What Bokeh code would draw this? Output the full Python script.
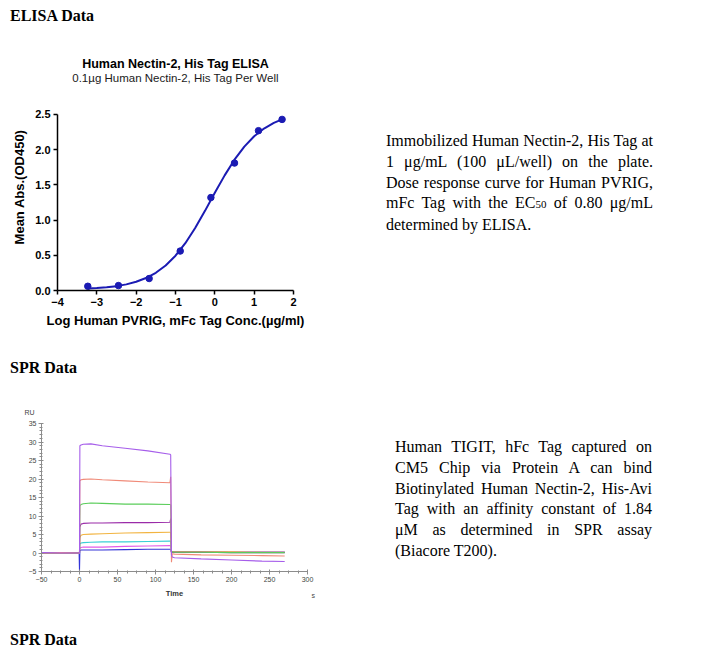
from bokeh.plotting import figure
from bokeh.models import Div, Range1d, FixedTicker, Title, NumeralTickFormatter
from bokeh.layouts import column, row
from bokeh.embed import file_html
from bokeh.resources import INLINE

SANS = "Liberation Sans"
SERIF = "'Liberation Serif', 'Times New Roman', serif"

# ---------------- ELISA data ----------------
elisa_heading = "ELISA Data"
elisa_title = "Human Nectin-2, His Tag ELISA"
elisa_subtitle = "0.1µg Human Nectin-2, His Tag Per Well"
elisa_xlabel = "Log Human PVRIG, mFc Tag Conc.(µg/ml)"
elisa_ylabel = "Mean Abs.(OD450)"
elisa_log_conc = [-3.23, -2.45, -1.67, -0.88, -0.10, 0.50, 1.11, 1.71]
elisa_od450 = [0.06, 0.07, 0.17, 0.56, 1.32, 1.81, 2.27, 2.43]
fit_log_conc = [-3.23, -3.0, -2.75, -2.5, -2.25, -2.0, -1.75, -1.5, -1.25, -1.0, -0.75,
                -0.5, -0.25, 0.0, 0.25, 0.5, 0.75, 1.0, 1.25, 1.5, 1.71]
fit_od450 = [0.027, 0.034, 0.045, 0.062, 0.087, 0.124, 0.177, 0.252, 0.356, 0.494, 0.672,
             0.888, 1.131, 1.388, 1.635, 1.858, 2.043, 2.190, 2.300, 2.380, 2.430]
elisa_x_ticks = [-4, -3, -2, -1, 0, 1, 2]
elisa_y_ticks = [0.0, 0.5, 1.0, 1.5, 2.0, 2.5]
elisa_lines = [
    "Immobilized Human Nectin-2, His Tag at",
    "1 μg/mL (100 μL/well) on the plate.",
    "Dose response curve for Human PVRIG,",
    "mFc Tag with the EC<span style=\"font-size:11px\">50</span> of 0.80 μg/mL",
    "determined by ELISA.",
]

# ---------------- SPR data ----------------
spr_heading = "SPR Data"
spr_ylabel = "RU"
spr_xlabel = "Time"
spr_xunit = "s"
spr_time = [-50, -25, -0.5, 0, 0.5, 2, 5, 15, 30, 60, 90, 119, 120, 121, 122, 125, 160, 200, 240, 270]
spr_purple = [0.1, 0.0, 0.0, 0.0, 29.0, 29.2, 29.4, 29.5, 29.0, 28.3, 27.6, 26.7, 26.5, -0.5, -1.1, -1.3, -1.6, -1.9, -2.2, -2.3]
spr_salmon = [0.0, 0.1, 0.0, 0.0, 19.5, 19.8, 19.9, 20.0, 19.8, 19.5, 19.2, 19.0, 20.6, -2.5, -0.2, -0.3, -0.5, -0.6, -0.7, -0.8]
spr_green = [0.0, 0.0, 0.0, 0.0, 12.8, 13.1, 13.3, 13.5, 13.4, 13.2, 13.2, 13.1, 13.0, 0.4, 0.3, 0.2, 0.2, 0.1, 0.1, 0.1]
spr_plum = [0.0, 0.0, 0.0, 0.0, 7.0, 7.8, 8.0, 8.1, 8.1, 8.2, 8.2, 8.3, 9.3, 0.3, 0.2, 0.2, 0.2, 0.1, 0.1, 0.1]
spr_orange = [0.0, 0.0, 0.0, 0.0, 4.2, 4.8, 5.0, 5.1, 5.2, 5.4, 5.5, 5.6, 5.6, 0.4, 0.3, 0.3, 0.3, 0.3, 0.2, 0.2]
spr_cyan = [0.0, 0.0, 0.0, 0.0, 2.4, 2.7, 2.8, 2.9, 3.0, 3.0, 3.1, 3.2, 3.2, 0.3, 0.2, 0.2, 0.2, 0.2, 0.2, 0.2]
spr_pink = [0.0, 0.0, 0.0, 0.0, 1.3, 1.5, 1.6, 1.6, 1.6, 1.8, 1.9, 2.0, 2.0, 0.3, 0.3, 0.3, 0.3, 0.3, 0.3, 0.3]
spr_blue = [0.1, 0.0, 0.1, -4.8, 0.6, 0.8, 0.8, 0.8, 0.8, 0.9, 1.0, 1.0, 1.0, 0.2, 0.2, 0.2, 0.2, 0.2, 0.2, 0.2]
spr_x_ticks = [-50, 0, 50, 100, 150, 200, 250, 300]
spr_y_ticks = [-5, 0, 5, 10, 15, 20, 25, 30, 35]
spr_lines = [
    "Human TIGIT, hFc Tag captured on",
    "CM5 Chip via Protein A can bind",
    "Biotinylated Human Nectin-2, His-Avi",
    "Tag with an affinity constant of 1.84",
    "μM as determined in SPR assay",
    "(Biacore T200).",
]

# ---------------- helpers ----------------
def heading_div(txt, height, pad_top):
    return Div(
        text=(f'<div style="padding:{pad_top}px 0 0 2px;font-family:{SERIF};font-size:16px;'
              f'font-weight:bold;line-height:16px;color:#000;white-space:nowrap;">{txt}</div>'),
        width=685, height=height, margin=0)


def para_div(lines, width, height, pad_top, pad_left, text_width):
    inner = ""
    for i, ln in enumerate(lines):
        last = "left" if i == len(lines) - 1 else "justify"
        inner += (f'<div style="text-align:justify;text-align-last:{last};white-space:nowrap;">'
                  f'{ln}</div>')
    return Div(
        text=(f'<div style="padding:{pad_top}px 0 0 {pad_left}px;">'
              f'<div style="width:{text_width}px;font-family:{SERIF};font-size:16px;'
              f'line-height:20.8px;color:#000;">{inner}</div></div>'),
        width=width, height=height, margin=0)


# ---------------- ELISA chart ----------------
blue = "#1B1BB3"
p1 = figure(width=370, height=300, x_range=Range1d(-4, 2), y_range=Range1d(0, 2.94),
            output_backend="svg", toolbar_location=None, title=None,
            min_border_left=49, min_border_right=85, min_border_top=43, min_border_bottom=50)
p1.outline_line_color = None
p1.grid.visible = False
p1.line(fit_log_conc, fit_od450, line_color=blue, line_width=2)
p1.scatter(elisa_log_conc, elisa_od450, size=6.5, color=blue)

for ax in (p1.xaxis[0], p1.yaxis[0]):
    ax.axis_line_color = "black"
    ax.axis_line_width = 1.5
    ax.major_tick_line_color = "black"
    ax.major_tick_line_width = 1.5
    ax.major_tick_out = 4
    ax.major_tick_in = 0
    ax.minor_tick_line_color = None
    ax.major_label_text_font = SANS
    ax.major_label_text_font_size = "11px"
    ax.major_label_text_font_style = "bold"
    ax.major_label_text_color = "black"
    ax.axis_label_text_font = SANS
    ax.axis_label_text_font_size = "13px"
    ax.axis_label_text_font_style = "bold"
    ax.axis_label_text_color = "black"
p1.xaxis.ticker = FixedTicker(ticks=elisa_x_ticks)
p1.yaxis.ticker = FixedTicker(ticks=elisa_y_ticks)
p1.yaxis.bounds = (0, 2.5)
p1.yaxis.formatter = NumeralTickFormatter(format="0.0")
p1.xaxis.axis_label = elisa_xlabel
p1.yaxis.axis_label = elisa_ylabel
p1.xaxis.major_label_standoff = 3
p1.yaxis.major_label_standoff = 3
p1.xaxis.axis_label_standoff = 4
p1.yaxis.axis_label_standoff = 5

p1.add_layout(Title(text=elisa_subtitle, align="center", text_font=SANS, text_font_size="11.5px",
                    text_font_style="normal", text_color="#1a1a1a", standoff=0), "above")
p1.add_layout(Title(text=elisa_title, align="center", text_font=SANS, text_font_size="12.5px",
                    text_font_style="bold", text_color="black", standoff=-3), "above")

# ---------------- SPR chart ----------------
p2 = figure(width=379, height=220, x_range=Range1d(-50, 300), y_range=Range1d(-5, 35),
            output_backend="svg", toolbar_location=None, title=None,
            min_border_left=33, min_border_right=80, min_border_top=43, min_border_bottom=28)
p2.outline_line_color = None
p2.grid.visible = False
spr_series = [
    (spr_blue, "#3434D8"), (spr_pink, "#E35BE8"), (spr_cyan, "#3BCFD6"), (spr_orange, "#F2B441"),
    (spr_plum, "#9A2BA8"), (spr_green, "#5ACD5A"), (spr_salmon, "#F08A78"), (spr_purple, "#A65EEA"),
]
for vals, col in spr_series:
    p2.line(spr_time, vals, line_color=col, line_width=1.1)

for ax in (p2.xaxis[0], p2.yaxis[0]):
    ax.axis_line_color = "#8c8c8c"
    ax.major_tick_line_color = "#8c8c8c"
    ax.minor_tick_line_color = "#8c8c8c"
    ax.major_tick_out = 3
    ax.major_tick_in = 2
    ax.minor_tick_out = 2
    ax.minor_tick_in = 1
    ax.major_label_text_font = SANS
    ax.major_label_text_font_size = "7px"
    ax.major_label_text_color = "#444444"
    ax.major_label_standoff = 2
p2.xaxis.ticker = FixedTicker(ticks=spr_x_ticks, minor_ticks=[t / 2 for t in range(-100, 601, 25)])
p2.yaxis.ticker = FixedTicker(ticks=spr_y_ticks, minor_ticks=list(range(-5, 36)))
p2.xaxis.axis_label = spr_xlabel
p2.xaxis.axis_label_text_font = SANS
p2.xaxis.axis_label_text_font_size = "7.5px"
p2.xaxis.axis_label_text_font_style = "bold"
p2.xaxis.axis_label_text_color = "#333333"
p2.xaxis.axis_label_standoff = 4

p2.add_layout(Title(text=spr_ylabel, align="left", offset=-17, text_font=SANS, text_font_size="7px",
                    text_font_style="normal", text_color="#444444", standoff=15.5), "above")
p2.add_layout(Title(text=spr_xunit, align="right", offset=-7.5, vertical_align="top",
                    text_font=SANS, text_font_size="7px", text_font_style="normal",
                    text_color="#444444", standoff=-17), "below")

# ---------------- page layout ----------------
layout = column(
    heading_div(elisa_heading, 32, 0),
    row(p1, para_div(elisa_lines, 315, 300, 91, 8, 267), spacing=0),
    heading_div(spr_heading, 40, 20),
    row(p2, para_div(spr_lines, 306, 220, 57, 8, 257), spacing=0),
    heading_div(spr_heading, 49, 32),
    spacing=0, margin=(8, 8, 0, 8),
)

open("out.html", "w").write(file_html(layout, INLINE))
